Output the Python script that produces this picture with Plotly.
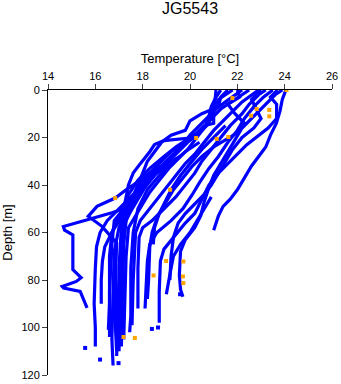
import plotly.graph_objects as go

title_text = "JG5543"
x_title = "Temperature [°C]"
y_title = "Depth [m]"
x_ticks = [14, 16, 18, 20, 22, 24, 26]
y_ticks = [0, 20, 40, 60, 80, 100, 120]

# each cast: list of (temperature, depth)
cast_01 = [(24.05,0),(23.9,4),(23.8,9),(23.65,14),(23.4,19),(23.2,24),(22.9,28),(22.6,32),(22.3,37),(22.0,42),(21.7,46),(21.4,49),(21.2,53),(21.05,57),(21.0,59)]
cast_02 = [(23.9,0),(23.6,2),(23.3,5),(23.0,8),(22.6,12),(22.2,16),(21.9,21),(21.6,26),(21.3,31),(21.0,36),(20.8,41),(20.6,47),(20.45,53),(20.2,58),(19.8,63),(19.6,68),(19.55,78),(19.6,84),(19.7,87)]
cast_03 = [(23.7,0),(23.4,3),(23.66,6),(23.66,12),(23.3,16),(22.9,19),(22.4,23),(22.0,27),(21.6,31),(21.2,35),(20.8,40),(20.5,46),(20.2,52),(19.8,56),(19.3,62),(18.9,67),(18.75,72),(18.7,85),(18.7,98)]
cast_04 = [(23.5,0),(23.1,3),(22.7,7),(22.3,12),(22.0,17),(21.6,22),(21.2,28),(20.8,33),(20.4,39),(20.1,44),(19.7,50),(19.2,55),(18.6,60),(18.3,65),(18.2,72),(18.15,85),(18.1,92)]
cast_05 = [(23.2,0),(22.9,2),(22.5,6),(22.2,10),(21.7,15),(21.3,20),(20.9,25),(20.5,30),(20.2,35),(19.8,40),(19.4,45),(18.9,50),(18.4,55),(18.0,58),(17.85,62),(17.8,75),(17.8,92)]
cast_06 = [(22.9,0),(22.6,2),(22.2,5),(21.8,9),(21.4,13),(21.0,17),(20.6,22),(20.2,27),(19.8,31),(19.4,36),(19.0,41),(18.6,46),(18.2,51),(17.9,55),(17.7,60),(17.6,80),(17.55,99)]
cast_07 = [(22.5,0),(22.2,2),(21.7,5),(21.3,8),(20.9,12),(20.6,16),(20.3,20),(19.9,25),(19.5,29),(19.1,33),(18.7,38),(18.3,43),(18.0,48),(17.7,53),(17.4,58),(17.3,70),(17.25,90),(17.2,105)]
cast_08 = [(22.2,0),(21.9,2),(21.5,5),(21.1,8),(20.8,11),(20.4,15),(20.0,19),(19.7,23),(19.3,27),(18.9,31),(18.5,36),(18.1,41),(17.8,46),(17.5,51),(17.2,57),(17.1,70),(17.05,95),(17.0,110)]
cast_09 = [(21.8,0),(21.5,2),(21.2,4),(21.0,8),(20.9,12),(20.7,15),(20.3,19),(19.9,22),(19.5,26),(19.1,30),(18.6,34),(18.2,38),(17.9,43),(17.6,48),(17.3,53),(17.1,58),(17.0,75),(16.95,100),(16.9,112)]
cast_10 = [(21.3,0),(21.1,3),(20.9,7),(20.8,11),(20.6,16),(20.3,19),(20.0,20.2),(19.5,20.6),(18.9,21.3),(18.5,23),(18.3,26),(17.9,31),(17.6,35),(17.4,40),(17.3,45),(17.2,50),(16.8,55),(16.7,65),(16.6,85),(16.6,100),(16.6,104)]
cast_11 = [(21.1,0),(21.05,5),(21.0,10),(21.0,14),(20.6,15),(20.3,18),(19.9,21),(19.6,23),(19.2,26),(18.8,30),(18.4,34),(18.0,38),(17.7,43),(17.5,48),(17.3,55),(17.2,65),(17.15,85),(17.1,108)]
cast_12 = [(20.0,20),(19.4,24),(18.9,28),(18.3,33),(17.8,38),(17.4,44),(17.2,50),(16.7,51.7),(15.7,54.5),(14.65,57.5),(14.7,59),(15.05,61),(15.05,68),(15.05,75.6),(15.4,79),(15.2,80.6),(14.6,82.7),(14.66,83.4),(15.36,84.8),(15.57,89.5),(15.65,91.7)]
cast_13 = [(19.6,28),(18.8,32),(18.3,35),(17.9,38),(17.3,42),(16.84,45.5),(16.07,49),(15.7,53.2),(16.28,57.4),(16.9,64.4),(16.85,80),(16.85,100),(16.9,110)]
cast_14 = [(18.0,40),(17.5,45),(17.0,50),(16.5,55),(16.2,60),(16.05,66),(16.0,75),(15.95,90),(16.0,100),(16.0,108)]
cast_15 = [(17.8,45),(17.2,52),(16.7,60),(16.4,66),(16.3,72),(16.25,80),(16.25,90)]
cast_16 = [(19.3,30),(18.6,35),(18.0,40),(17.5,46),(17.0,53),(16.7,60),(16.6,70),(16.6,90),(16.55,101)]
cast_17 = [(18.6,32),(18.1,38),(17.7,44),(17.3,50),(17.0,58),(16.8,68),(16.75,85),(16.7,105),(16.75,116)]
cast_18 = [(20.4,22),(19.8,26),(19.2,31),(18.7,36),(18.2,42),(17.8,50),(17.6,60),(17.5,75),(17.5,95),(17.45,102)]
cast_19 = [(21.5,15),(21.0,20),(20.5,25),(20.0,31),(19.6,36),(19.2,42),(18.9,48),(18.6,54),(18.4,60),(18.3,66),(18.25,80),(18.2,88)]
cast_20 = [(20.9,45),(20.6,50),(20.3,55),(20.0,60),(19.6,65),(19.3,70),(19.2,75),(19.1,80),(19.0,86)]
cast_21 = [(22.0,0),(22.1,3),(21.6,6),(21.9,10),(22.3,14),(22.0,18),(21.5,21),(21.0,24),(20.5,28),(20.1,32),(19.7,37),(19.3,42),(19.0,47),(18.7,52),(18.5,58),(18.45,65)]
cast_22 = [(23.0,0),(22.6,4),(22.8,8),(23.0,12),(22.7,16),(22.2,20),(21.8,25),(21.5,30),(21.2,35),(20.9,40),(20.6,44),(20.2,48),(19.8,52),(19.5,56),(19.3,62),(19.2,70),(19.15,80)]
cast_23 = [(21.6,0),(21.3,3),(21.2,7),(20.5,10),(20.0,13),(19.8,17),(19.2,19),(18.8,22),(18.5,26),(18.2,30),(18.0,35),(17.8,40),(17.5,47),(17.3,55)]

casts = [cast_01, cast_02, cast_03, cast_04, cast_05, cast_06, cast_07, cast_08, cast_09, cast_10,
         cast_11, cast_12, cast_13, cast_14, cast_15, cast_16, cast_17, cast_18, cast_19, cast_20,
         cast_21, cast_22, cast_23]

# isolated blue samples
stray_temp = [15.57, 16.2, 16.98, 18.39, 19.58, 18.65]
stray_depth = [108.6, 113.5, 115.0, 100.6, 86.0, 100.0]

# flagged samples (orange)
flag_temp = [24.08, 21.79, 22.82, 23.35, 23.35, 22.58, 20.26, 21.13, 21.62, 19.16, 16.84, 18.99, 18.46, 19.72, 19.70, 19.72, 17.19, 17.67]
flag_depth = [0.0, 3.4, 8.0, 8.4, 11.1, 10.8, 20.2, 20.6, 19.8, 42.0, 45.5, 72.0, 78.1, 72.2, 78.5, 81.3, 104.0, 104.4]

BLUE = "#0000ff"
ORANGE = "#ffa500"

fig = go.Figure()
for c in casts:
    fig.add_trace(go.Scatter(
        x=[p[0] for p in c], y=[p[1] for p in c], mode="lines",
        line=dict(color=BLUE, width=3.2), showlegend=False, hoverinfo="skip"))
fig.add_trace(go.Scatter(x=stray_temp, y=stray_depth, mode="markers",
                         marker=dict(color=BLUE, size=4, symbol="square"), showlegend=False))
fig.add_trace(go.Scatter(x=flag_temp, y=flag_depth, mode="markers",
                         marker=dict(color=ORANGE, size=4, symbol="square"), showlegend=False))

FAM = "Liberation Sans, Arial, sans-serif"
font = dict(family=FAM, size=11, color="black")
fig.update_layout(
    width=341, height=384,
    margin=dict(l=48, r=9, t=90, b=9),
    paper_bgcolor="white", plot_bgcolor="white",
    font=font,
    xaxis=dict(side="top", range=[14, 26], tickvals=x_ticks, ticks="outside", ticklen=5,
               showline=True, linecolor="black", linewidth=1, showgrid=False, zeroline=False,
               automargin=False, title=dict(text=x_title, standoff=3), tickfont=font),
    yaxis=dict(range=[120, 0], tickvals=y_ticks, ticks="outside", ticklen=5,
               showline=True, linecolor="black", linewidth=1, showgrid=False, zeroline=False,
               automargin=False, title=dict(text=y_title, standoff=6), tickfont=font),
    annotations=[dict(text=title_text, xref="paper", yref="paper", x=0.5, y=1,
                      xanchor="center", yanchor="middle", yshift=82, showarrow=False,
                      font=dict(family=FAM, size=16, color="black"))],
)
fig.write_html("out.html", config={"displayModeBar": False},
               post_script="document.body.style.margin='0';document.body.style.overflow='hidden';")
